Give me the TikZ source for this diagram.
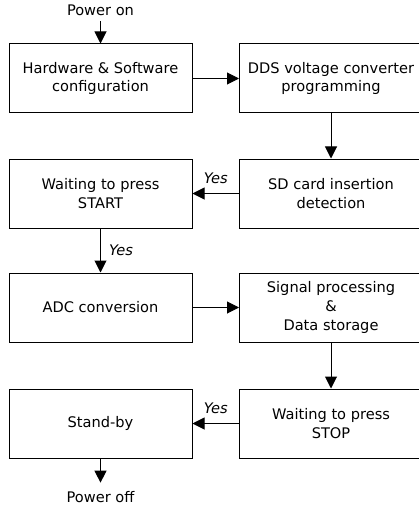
\documentclass[tikz,border=0pt]{standalone}
\usepackage{fontspec}
\setmainfont{DejaVu Sans}
\usetikzlibrary{arrows.meta}

\begin{document}
\begin{tikzpicture}[
  x=1pt, y=-1pt,
  font=\fontsize{14.6}{18.7}\selectfont,
  box/.style={draw, line width=1pt, minimum width=183pt, minimum height=69pt, inner sep=0pt, align=center},
  term/.style={inner sep=5pt},
  yes/.style={inner sep=0pt, font=\fontsize{14.6}{18.7}\selectfont\itshape},
  line/.style={-{Triangle[length=12pt,width=12pt]}, line width=1pt}
]
\useasboundingbox (0,0) rectangle (418,505);

\node[term] (on) at (100.5,10.5) {Power on};
\node[box] (hw) at (100.5,78.5) {Hardware \& Software\\configuration};
\node[box] (dds) at (331,78.5) {DDS voltage converter\\programming};
\node[box] (start) at (100.5,193.5) {Waiting to press\\START};
\node[box] (sd) at (331,193.5) {SD card insertion\\detection};
\node[box] (adc) at (100.5,307.5) {ADC conversion};
\node[box] (sig) at (331,307.5) {Signal processing\\\&\\Data storage};
\node[box] (sby) at (100.5,423.5) {Stand-by};
\node[box] (stop) at (331,423.5) {Waiting to press\\STOP};
\node[term, inner sep=9pt] (off) at (100.5,497.5) {Power off};

\draw[line] (on) -- (hw);
\draw[line] (hw) -- (dds);
\draw[line] (dds) -- (sd);
\draw[line] (sd) -- node[yes, above=9.5pt] {Yes} (start);
\draw[line] (start) -- node[yes, right=8pt] {Yes} (adc);
\draw[line] (adc) -- (sig);
\draw[line] (sig) -- (stop);
\draw[line] (stop) -- node[yes, above=9.5pt] {Yes} (sby);
\draw[line] (sby) -- (off);
\end{tikzpicture}
\end{document}
